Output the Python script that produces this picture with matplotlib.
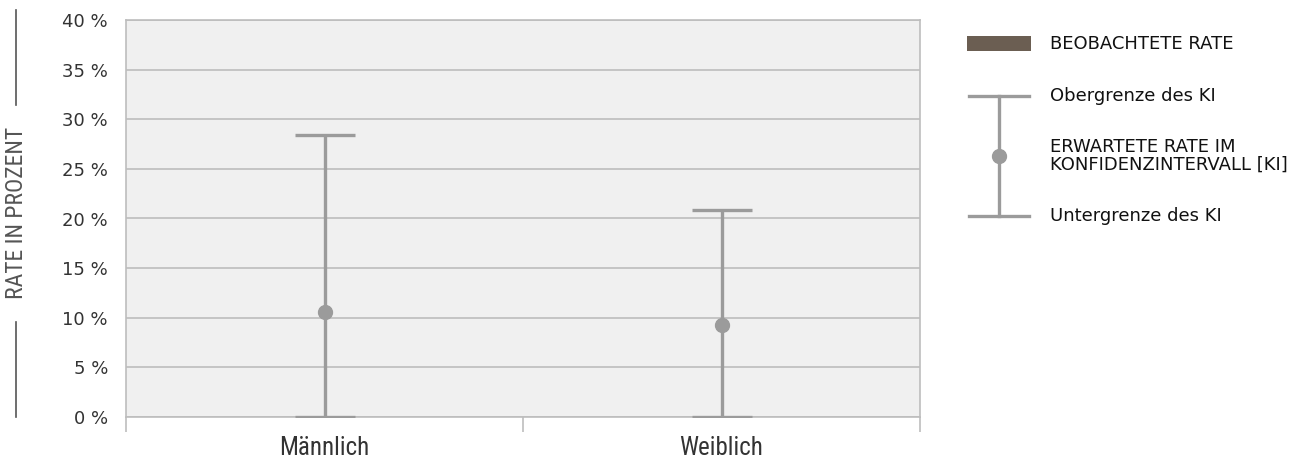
import matplotlib
matplotlib.use("Agg")
import matplotlib.pyplot as plt
from matplotlib.ticker import FixedLocator, FuncFormatter

plt.rcParams["font.family"] = ["DejaVu Sans"]

categories = ["Männlich", "Weiblich"]
expected = [10.6, 9.3]
ci_lower = [0.0, 0.0]
ci_upper = [28.4, 20.9]
y_ticks = [0, 5, 10, 15, 20, 25, 30, 35, 40]

COND = ["Roboto Condensed", "Liberation Sans Narrow", "DejaVu Sans"]

W, H = 1311, 461
fig = plt.figure(figsize=(W / 100, H / 100), dpi=100)
ax = fig.add_axes([126 / W, 1 - 417 / H, (920 - 126) / W, (417 - 20) / H])
ax.set_facecolor("#f0f0f0")

grid_c = "#bdbdbd"
err_c = "#9b9b9b"
txt_c = "#333333"

x = list(range(len(categories)))
yerr = [[e - l for e, l in zip(expected, ci_lower)],
        [u - e for e, u in zip(expected, ci_upper)]]
ax.errorbar(x, expected, yerr=yerr, fmt="o", color=err_c, ecolor=err_c,
            elinewidth=2.4, capsize=21.6, capthick=2.4, markersize=10, zorder=5)

ax.set_xlim(-0.5, len(categories) - 0.5)
ax.set_ylim(0, 40)
ax.set_yticks(y_ticks)
ax.yaxis.set_major_formatter(FuncFormatter(lambda v, p: f"{int(v)} %"))
ax.tick_params(axis="y", length=0, pad=13, labelsize=13, labelcolor=txt_c)
ax.yaxis.grid(True, color=grid_c, linewidth=1.2)
ax.set_axisbelow(True)

ax.xaxis.set_major_locator(FixedLocator([i - 0.5 for i in range(len(categories) + 1)]))
ax.xaxis.set_major_formatter(FuncFormatter(lambda v, p: ""))
ax.xaxis.set_minor_locator(FixedLocator(x))
ax.set_xticklabels(categories, minor=True)
ax.tick_params(axis="x", which="major", length=11, color=grid_c, width=1.2)
ax.tick_params(axis="x", which="minor", length=0, pad=14, labelsize=18, labelcolor=txt_c)
for lab in ax.get_xticklabels(minor=True):
    lab.set_family(COND)
    lab.set_stretch("condensed")
for s in ax.spines.values():
    s.set_color(grid_c)
    s.set_linewidth(1.2)

# overlay for y label decorations and legend
ov = fig.add_axes([0, 0, 1, 1], facecolor="none")
ov.set_xlim(0, W)
ov.set_ylim(H, 0)
ov.axis("off")
ov.plot([16, 16], [10, 105], color="#555555", lw=1.2)
ov.plot([16, 16], [322, 417], color="#555555", lw=1.2)
ov.text(17, 213, "RATE IN PROZENT", rotation=90, ha="center", va="center",
        fontsize=17, color="#555555", family=COND, stretch="condensed")

# legend
lg_c = "#111111"
ov.add_patch(plt.Rectangle((967, 36), 64, 15, color="#6b5e52", lw=0))
ov.text(1050, 44, "BEOBACHTETE RATE", fontsize=13, va="center", color=lg_c)
ov.plot([999, 999], [96, 216], color=err_c, lw=2.4)
ov.plot([969, 1029], [96, 96], color=err_c, lw=2.4)
ov.plot([969, 1029], [216, 216], color=err_c, lw=2.4)
ov.plot([999], [156], "o", color=err_c, markersize=10)
ov.text(1050, 96, "Obergrenze des KI", fontsize=13, va="center", color=lg_c)
ov.text(1050, 156, "ERWARTETE RATE IM\nKONFIDENZINTERVALL [KI]", fontsize=13,
        va="center", color=lg_c, linespacing=0.95)
ov.text(1050, 216, "Untergrenze des KI", fontsize=13, va="center", color=lg_c)

fig.savefig("out.png", dpi=100)
